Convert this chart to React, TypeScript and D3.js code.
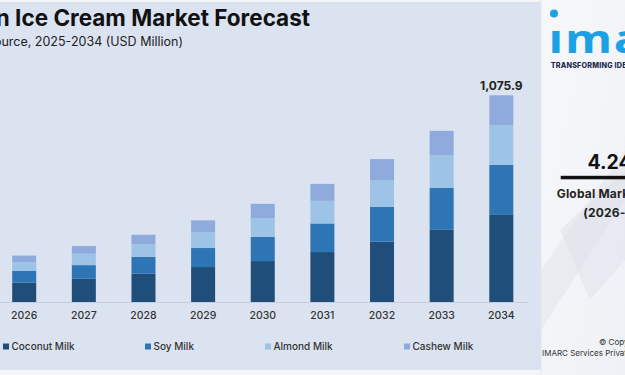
import React from "react";
import * as d3 from "d3";

const years = ["2026", "2027", "2028", "2029", "2030", "2031", "2032", "2033", "2034"];
const seriesNames = ["Coconut Milk", "Soy Milk", "Almond Milk", "Cashew Milk"];
const coconutMilk = [101.5, 121, 147, 182, 213, 260, 314, 378, 456.5];
const soyMilk = [60, 71, 88.5, 99, 126.5, 149, 180.5, 216.5, 258];
const almondMilk = [47, 59, 66, 83, 97, 117.5, 140.5, 168.5, 206.5];
const cashewMilk = [33, 40, 48.5, 61, 74.5, 88.5, 109, 128, 155];
const totalLabel = "1,075.9";
const seriesColors = ["#1f4e7a", "#2e75b6", "#9dc3e6", "#8faadc"];

const W = 625;
const H = 375;
const baseY = 302;
const topY = 95.3;
const FONT = "Inter, 'Noto Sans', sans-serif";

export default function App() {
  const seriesValues = [coconutMilk, soyMilk, almondMilk, cashewMilk];
  const rows = years.map((y, i) => {
    const r: any = { year: y };
    seriesNames.forEach((s, k) => (r[s] = seriesValues[k][i]));
    return r;
  });
  const stacked = d3.stack().keys(seriesNames)(rows);
  const maxTotal = d3.max(rows, (r: any) => seriesNames.reduce((a, s) => a + r[s], 0)) as number;

  const x = d3.scalePoint<string>().domain(years).range([24.2, 501.3]);
  const y = d3.scaleLinear().domain([0, maxTotal]).range([baseY, topY]);
  const barW = 24;
  const legendX = [3, 145, 265, 404];

  return (
    <svg width={W} height={H} style={{ position: "absolute", left: 0, top: 0, display: "block" }} fontFamily={FONT}>
      <defs>
        <linearGradient id="panel" x1="0" y1="0" x2="1" y2="1">
          <stop offset="0" stopColor="#f7f8fa" />
          <stop offset="1" stopColor="#eef1f5" />
        </linearGradient>
      </defs>
      <rect x={0} y={0} width={W} height={H} fill="#f3f5f8" />
      <rect x={0} y={2} width={541} height={368} fill="#dbe3f1" />
      {/* title */}
      <text x={310} y={26} textAnchor="end" fontSize={22.5} fontWeight={700} fill="#111">
        Vegan Ice Cream Market Forecast
      </text>
      <text x={183} y={46} textAnchor="end" fontSize={12.5} fill="#222">
        Market Breakup by Source, 2025-2034 (USD Million)
      </text>
      {/* axis */}
      <line x1={0} x2={528} y1={baseY + 0.5} y2={baseY + 0.5} stroke="#c5cede" strokeWidth={1} />
      {stacked.map((layer, k) => (
        <g key={layer.key} fill={seriesColors[k]}>
          {layer.map((d: any, i: number) => (
            <rect key={i} x={(x(years[i]) as number) - barW / 2} y={y(d[1])} width={barW} height={y(d[0]) - y(d[1])} />
          ))}
        </g>
      ))}
      <text x={x(years[years.length - 1])} y={89.5} textAnchor="middle" fontSize={12} fontWeight={700} fill="#222">
        {totalLabel}
      </text>
      {years.map((yr) => (
        <text key={yr} x={x(yr)} y={319} textAnchor="middle" fontSize={10.5} fontWeight={500} fill="#333">
          {yr}
        </text>
      ))}
      {seriesNames.map((s, k) => (
        <g key={s} transform={`translate(${legendX[k]},346.5)`}>
          <rect x={0} y={-3} width={6} height={6} fill={seriesColors[k]} />
          <text x={8.5} y={3.6} fontSize={10} fontWeight={500} fill="#333">
            {s}
          </text>
        </g>
      ))}
      {/* right panel */}
      <rect x={541} y={0} width={84} height={H} fill="url(#panel)" />
      <polygon points="541,270 625,150 625,200 541,330" fill="#e4e8ee" opacity={0.7} />
      <polygon points="560,230 625,170 625,260 590,300" fill="#dde2e9" opacity={0.5} />
      <line x1={541} x2={541} y1={0} y2={H} stroke="#e2e6ec" />
      <circle cx={554} cy={13.5} r={4} fill="#1da1e6" />
      <g transform="translate(548.5,53.3) scale(1.2,1)">
        <text x={0} y={0} fontSize={40} fontWeight={700} fill="#1da1e6" letterSpacing={1.5} fontFamily="'Open Sans', sans-serif">
          ımarc
        </text>
      </g>
      <text x={550.7} y={67.5} fontSize={7.2} fontWeight={800} fill="#1b2b4b" letterSpacing={0.2}>
        TRANSFORMING IDEAS INTO IMPACT
      </text>
      <text x={587.5} y={168.5} fontSize={19.5} fontWeight={700} fill="#111">
        4.24%
      </text>
      <rect x={560.7} y={175.8} width={80} height={3.5} fill="#111" />
      <text x={556.7} y={198.3} fontSize={12} fontWeight={700} fill="#222" letterSpacing={0.2}>
        Global Market Growth Rate
      </text>
      <text x={583.3} y={216.5} fontSize={12} fontWeight={700} fill="#222" letterSpacing={0.2}>
        (2026-2034)
      </text>
      <text x={599} y={344.5} fontSize={8} fill="#333">
        © Copyright 2025
      </text>
      <text x={542} y={356} fontSize={8} fill="#333">
        IMARC Services Private Limited
      </text>
    </svg>
  );
}
